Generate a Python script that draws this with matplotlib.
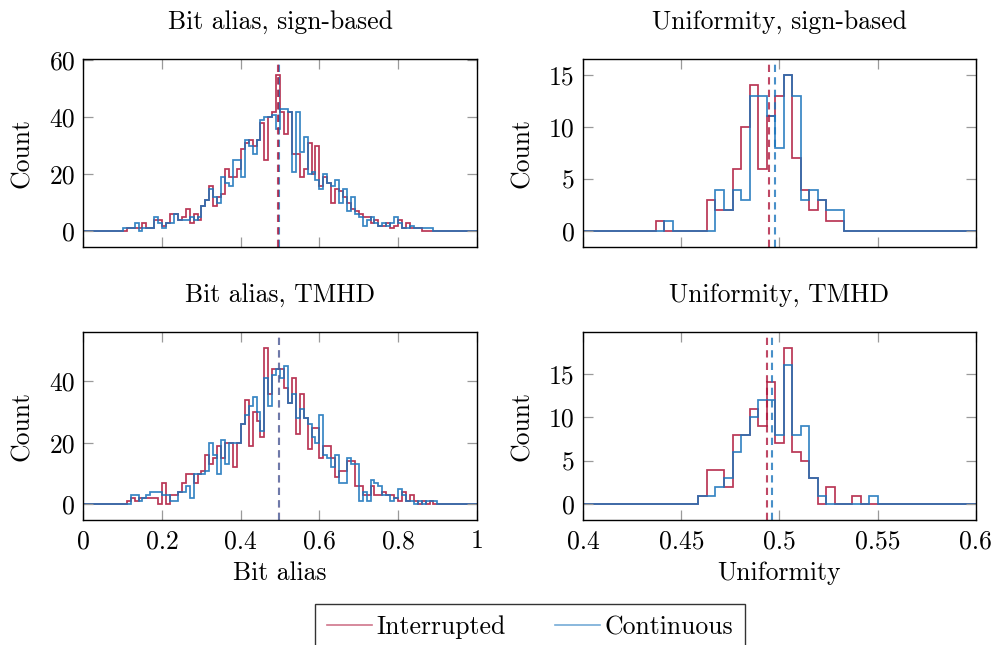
import numpy as np
import matplotlib
matplotlib.use("Agg")
import matplotlib.pyplot as plt
from matplotlib.lines import Line2D

plt.rcParams["font.family"] = ["cmr10", "DejaVu Serif"]
plt.rcParams["mathtext.fontset"] = "cm"
plt.rcParams["axes.unicode_minus"] = False
plt.rcParams["axes.linewidth"] = 1.0

# ---------------------------------------------------------------- data
series_labels = ["Interrupted", "Continuous"]
colors = ["#B01A3E", "#1B75BC"]

# Bit alias histograms: bins of width 0.01 on [0, 1]; first listed bin index
bit_bin_width = 0.01
bit_n_bins = 100
bit_sign_start = 10
bit_sign_interrupted = [
    0, 1, 1, 1, 1, 3, 1, 1, 4, 4, 2, 3, 6, 6, 4, 5, 8, 3, 6, 4,
    9, 11, 16, 9, 12, 13, 22, 19, 19, 22, 29, 31, 32, 30, 32, 38, 25, 40, 42, 55,
    42, 34, 42, 27, 27, 19, 22, 31, 20, 30, 16, 19, 17, 10, 15, 14, 12, 10, 8, 7,
    6, 5, 5, 3, 4, 2, 2, 3, 1, 2, 4, 1, 3, 1, 1, 1, 0, 0, 0]
bit_sign_continuous = [
    1, 1, 1, 3, 0, 1, 1, 1, 5, 3, 1, 3, 3, 6, 4, 4, 4, 5, 4, 5,
    9, 11, 15, 12, 10, 19, 17, 16, 25, 25, 19, 32, 30, 27, 32, 39, 40, 40, 41, 36,
    43, 43, 42, 21, 42, 28, 33, 20, 21, 18, 15, 20, 17, 16, 18, 10, 15, 7, 12, 6,
    5, 2, 4, 5, 3, 2, 3, 2, 3, 5, 3, 1, 1, 2, 1, 1, 1, 1, 1]

bit_tmhd_start = 11
bit_tmhd_interrupted = [
    1, 2, 1, 2, 2, 2, 2, 2, 0, 7, 0, 3, 3, 4, 7, 10, 10, 7, 10,
    11, 16, 13, 15, 19, 15, 20, 20, 12, 20, 26, 34, 19, 30, 27, 22, 51, 36, 44, 44,
    44, 38, 33, 41, 23, 36, 28, 18, 25, 25, 15, 19, 19, 15, 9, 11, 11, 14, 14, 6,
    6, 3, 3, 6, 3, 3, 4, 3, 3, 2, 1, 4, 1, 3, 1, 0, 1, 0, 1, 0]
bit_tmhd_continuous = [
    0, 3, 3, 1, 2, 3, 4, 4, 4, 3, 3, 1, 1, 4, 4, 6, 2, 10, 10,
    10, 11, 20, 16, 10, 21, 13, 20, 20, 20, 26, 29, 32, 35, 30, 24, 41, 32, 42, 44,
    41, 45, 33, 36, 28, 31, 28, 26, 22, 20, 29, 16, 15, 12, 16, 7, 7, 15, 13, 13,
    1, 4, 1, 8, 7, 6, 3, 3, 1, 2, 5, 3, 1, 1, 0, 1, 0, 1, 1, 1]

# Uniformity histograms: 47 bins of width 0.2/46 centred on 0.4 + j*width
uni_bin_width = 0.2 / 46
uni_n_bins = 47
uni_sign_start = 9
uni_sign_interrupted = [1, 0, 0, 0, 0, 0, 3, 2, 2, 6, 10, 14, 6, 11, 13, 15, 7, 4, 2, 3, 1, 1]
uni_sign_continuous = [0, 1, 0, 0, 0, 0, 0, 4, 2, 4, 3, 13, 13, 11, 8, 15, 13, 3, 4, 3, 2, 2]

uni_tmhd_start = 14
uni_tmhd_interrupted = [1, 4, 4, 2, 8, 8, 11, 9, 14, 7, 18, 6, 5, 3, 0, 2, 0, 0, 1, 0, 0]
uni_tmhd_continuous = [1, 1, 2, 3, 6, 8, 10, 12, 12, 8, 16, 8, 9, 3, 1, 0, 0, 0, 0, 0, 1]

# Mean values (dashed markers)
bit_sign_means = [0.4955, 0.4963]
bit_tmhd_means = [0.496, 0.496]
uni_sign_means = [0.4947, 0.4977]
uni_tmhd_means = [0.4935, 0.4962]

bit_xticks = [0, 0.2, 0.4, 0.6, 0.8, 1]
bit_xticklabels = ["0", "0.2", "0.4", "0.6", "0.8", "1"]
uni_xticks = [0.4, 0.45, 0.5, 0.55, 0.6]
uni_xticklabels = ["0.4", "0.45", "0.5", "0.55", "0.6"]

titles = ["Bit alias, sign-based", "Uniformity, sign-based",
          "Bit alias, TMHD", "Uniformity, TMHD"]

# ---------------------------------------------------------------- helpers
FS = 18.5


def padded(values, start, n):
    out = np.zeros(n)
    out[start:start + len(values)] = values
    return out


bit_edges = np.arange(bit_n_bins + 1) * bit_bin_width
uni_edges = 0.4 + (np.arange(uni_n_bins + 1) - 0.5) * uni_bin_width

W, H = 995, 645
fig = plt.figure(figsize=(W / 100, H / 100), dpi=100)


def make_axes(left, top, width, height):
    return fig.add_axes([left / W, 1 - (top + height) / H, width / W, height / H])


ax1 = make_axes(83.5, 59, 393.2, 188)
ax2 = make_axes(583.1, 59, 392.8, 188)
ax3 = make_axes(83.5, 332, 393.2, 188)
ax4 = make_axes(583.1, 332, 392.8, 188)

# (axes, edges, first bin, bin count, series, means, x range, y ticks,
#  mean-line stacking: index of the series drawn on top, mean-line alpha)
panels = [
    (ax1, bit_edges, bit_sign_start, bit_n_bins,
     [bit_sign_interrupted, bit_sign_continuous], bit_sign_means, (0, 1),
     [0, 20, 40, 60], 0, 0.8),
    (ax2, uni_edges, uni_sign_start, uni_n_bins,
     [uni_sign_interrupted, uni_sign_continuous], uni_sign_means, (0.4, 0.6),
     [0, 5, 10, 15], 0, 0.8),
    (ax3, bit_edges, bit_tmhd_start, bit_n_bins,
     [bit_tmhd_interrupted, bit_tmhd_continuous], bit_tmhd_means, (0, 1),
     [0, 20, 40], 1, 0.55),
    (ax4, uni_edges, uni_tmhd_start, uni_n_bins,
     [uni_tmhd_interrupted, uni_tmhd_continuous], uni_tmhd_means, (0.4, 0.6),
     [0, 5, 10, 15], 0, 0.8),
]

for i, (ax, edges, start, n, series, means, xlim, yticks, on_top, m_alpha) in enumerate(panels):
    top = 0
    for vals, col in zip(series, colors):
        counts = padded(vals, start, n)
        top = max(top, counts.max())
        ax.stairs(counts, edges, color=col, linewidth=1.25, alpha=0.88,
                  baseline=None, zorder=2)
    for j, (m, col) in enumerate(zip(means, colors)):
        z = 2.2 if j == on_top else 2.1
        ax.axvline(m, color=col, linewidth=1.5, alpha=m_alpha,
                   linestyle=(0, (3.5, 2.5)), zorder=z)
    ax.set_xlim(*xlim)
    ax.set_ylim(-0.1 * top, 1.1 * top)
    ax.set_yticks(yticks)
    ax.set_yticklabels([str(t) for t in yticks])
    if xlim == (0, 1):
        ax.set_xticks(bit_xticks)
        ax.set_xticklabels(bit_xticklabels)
    else:
        ax.set_xticks(uni_xticks)
        ax.set_xticklabels(uni_xticklabels)
    ax.set_axisbelow(False)
    ax.tick_params(direction="in", top=True, right=True, length=7, width=0.9,
                   color="#9a9a9a", labelsize=FS, pad=6)
    ax.tick_params(axis="x", pad=7)
    ax.set_title(titles[i], fontsize=FS, pad=21.5)
    ax.set_ylabel("Count", fontsize=FS)
    ax.yaxis.set_label_coords(-0.125, 0.5)
    for sp in ax.spines.values():
        sp.set_zorder(3)

for ax in (ax1, ax2):
    ax.tick_params(labelbottom=False)

ax3.set_xlabel("Bit alias", fontsize=FS)
ax4.set_xlabel("Uniformity", fontsize=FS)
for ax in (ax3, ax4):
    ax.xaxis.set_label_coords(0.5, -0.22)

handles = [Line2D([], [], color=c, linewidth=1.2, alpha=0.6) for c in colors]
leg = fig.legend(handles, series_labels, loc="upper center",
                 bbox_to_anchor=(530 / W, 1 - 604 / H), ncol=2, fontsize=FS,
                 frameon=True, fancybox=False, framealpha=1, edgecolor="#333333",
                 handlelength=1.75, handletextpad=0.2, columnspacing=1.9,
                 borderpad=0.45, borderaxespad=0)
leg.get_frame().set_linewidth(1.0)

fig.savefig("out.png", dpi=100)
